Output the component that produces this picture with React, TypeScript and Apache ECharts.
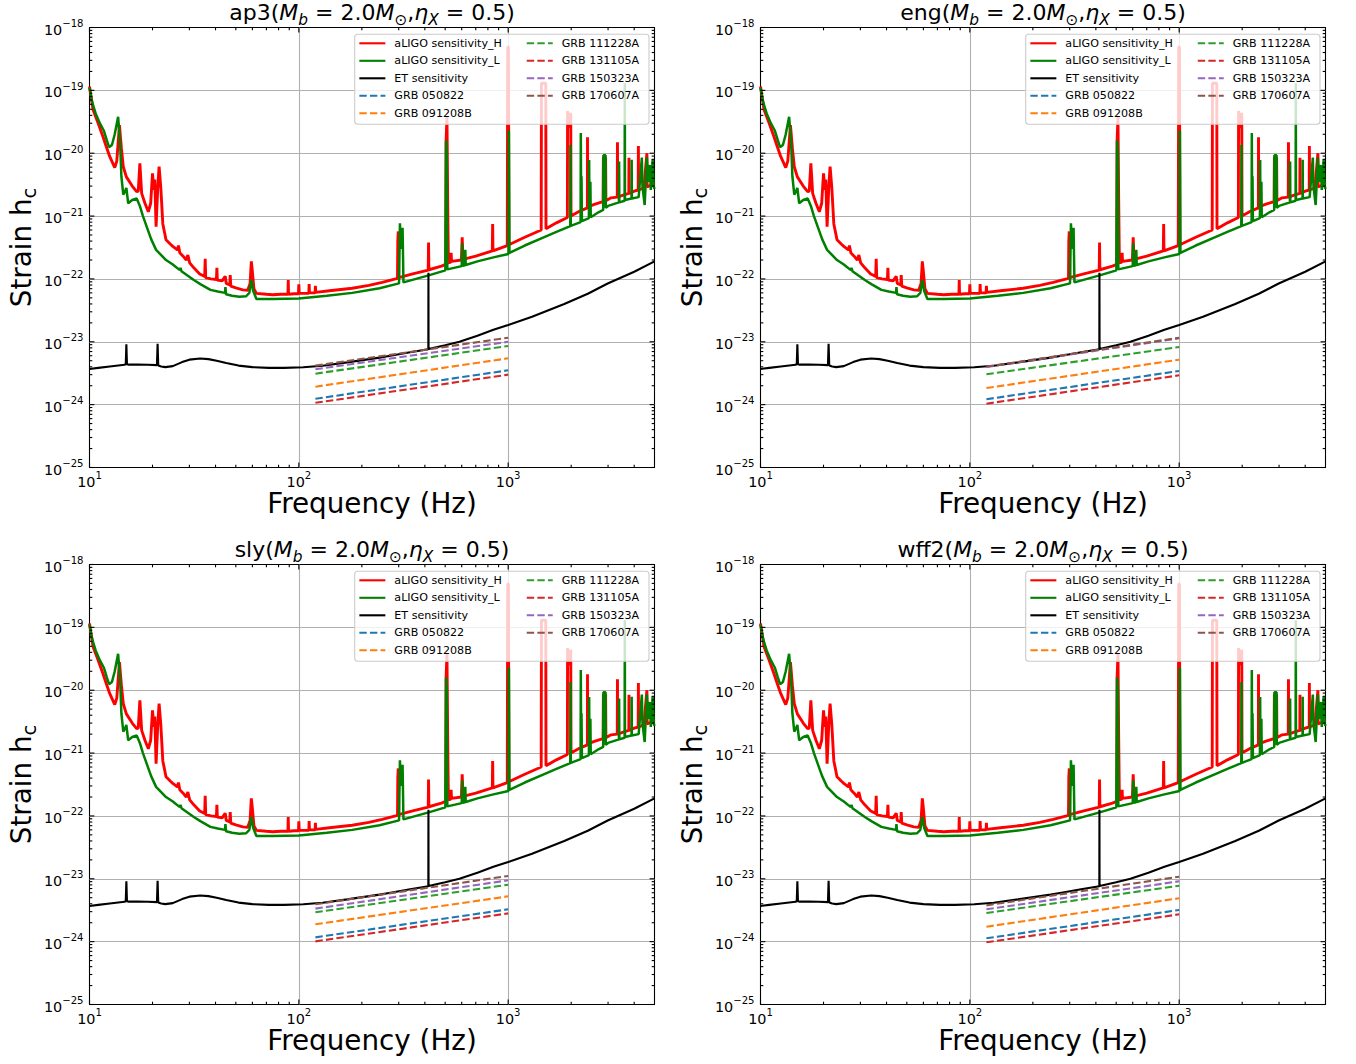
import React, { useEffect, useRef } from 'react';
import * as echarts from 'echarts';

const FONT = 'DejaVu Sans';

// ---- data ----
const panelModels = ['ap3', 'eng', 'sly', 'wff2'];
const panelMass = '2.0';
const panelEta = '0.5';

const seriesNames = ['aLIGO sensitivity_H', 'aLIGO sensitivity_L', 'ET sensitivity'];
const grbNames = ['GRB 050822', 'GRB 091208B', 'GRB 111228A', 'GRB 131105A', 'GRB 150323A', 'GRB 170607A'];
const grbColors = ['#1f77b4', '#ff7f0e', '#2ca02c', '#d62728', '#9467bd', '#8c564b'];
const legendCol1 = ['aLIGO sensitivity_H', 'aLIGO sensitivity_L', 'ET sensitivity', 'GRB 050822', 'GRB 091208B'];
const legendCol2 = ['GRB 111228A', 'GRB 131105A', 'GRB 150323A', 'GRB 170607A'];

const grbFreq = [120, 1000];
const grbAp3 = [[1.24e-24, 3.52e-24], [1.93e-24, 5.46e-24], [3.11e-24, 8.57e-24], [1.07e-24, 3.0e-24], [3.65e-24, 1.0e-23], [4.17e-24, 1.16e-23]];
const grbEng = [[1.22e-24, 3.43e-24], [1.84e-24, 5.19e-24], [3.04e-24, 8.26e-24], [1.035e-24, 2.93e-24], [3.98e-24, 1.135e-23], [4.02e-24, 1.16e-23]];
const grbSly = [[1.17e-24, 3.27e-24], [1.89e-24, 5.26e-24], [2.93e-24, 8.05e-24], [1.01e-24, 2.82e-24], [3.35e-24, 9.46e-24], [3.93e-24, 1.11e-23]];
const grbWff2 = [[1.13e-24, 3.19e-24], [1.73e-24, 4.9e-24], [2.86e-24, 7.76e-24], [9.77e-25, 2.72e-24], [3.27e-24, 9.12e-24], [3.78e-24, 1.08e-23]];
const grbByPanel = [grbAp3, grbEng, grbSly, grbWff2];

const ligoH = [
  [10, 1.15e-19], [10.2, 7.5e-20], [10.4, 4.9e-20], [11.0, 3.0e-20], [11.6, 1.83e-20], [12.0, 1.3e-20],
  [12.5, 8.8e-21], [13.2, 5.9e-21], [13.5, 7.5e-21], [13.9, 2.8e-20], [14.2, 1.2e-20], [14.5, 6.1e-21],
  [15.0, 4.2e-21], [16.0, 3.0e-21], [16.8, 2.45e-21], [17.1, 2.5e-21], [17.4, 6.9e-21], [17.75, 2.3e-21],
  [18.4, 1.6e-21], [19.1, 1.17e-21], [19.6, 1.6e-21], [20.0, 4.8e-21], [20.3, 2.6e-21], [20.5, 3.8e-21],
  [20.8, 6.8e-22], [21.2, 3e-21], [21.5, 6.1e-21], [21.9, 2.9e-21], [22.4, 7.5e-22], [23.2, 4.2e-22],
  [24.3, 3.6e-22], [25, 3.3e-22], [26.3, 2.9e-22], [26.6, 3.4e-22], [27, 2.6e-22], [28, 2.3e-22],
  [29, 2.0e-22], [29.5, 2.4e-22], [30.1, 1.8e-22], [31.5, 1.5e-22], [33.6, 1.2e-22], [35.5, 1.1e-22],
  [35.7, 2.1e-22], [35.9, 1.05e-22], [38, 1.0e-22], [40.4, 9.8e-23], [40.6, 1.5e-22], [40.8, 9.6e-23],
  [43, 9.3e-23], [44.5, 1.1e-22], [45, 8.5e-23], [46.8, 8e-23], [47, 1.15e-22], [47.3, 7.7e-23],
  [50, 7.2e-23], [54, 6.7e-23], [57, 6.6e-23], [58.5, 8.5e-23], [59.3, 1.9e-22], [60, 1.3e-22],
  [61, 7e-23], [62.7, 5.9e-23], [70, 5.7e-23], [75, 5.6e-23], [82, 5.7e-23], [88.7, 5.7e-23],
  [89, 9.6e-23], [89.3, 5.7e-23], [95, 5.8e-23], [99.6, 5.8e-23], [100, 8.2e-23], [100.4, 5.9e-23],
  [111.6, 5.9e-23], [112, 8.3e-23], [112.4, 6e-23], [119.6, 6e-23], [120, 7.8e-23], [120.4, 6.1e-23],
  [140, 6.5e-23], [180, 7.1e-23], [216, 7.9e-23], [250, 8.8e-23], [296, 1.02e-22], [297, 4e-22],
  [298.5, 5.7e-22], [300, 1.05e-22], [350, 1.2e-22], [415, 1.38e-22], [416.5, 3.8e-22], [418, 1.4e-22],
  [480, 1.6e-22], [503, 1.7e-22], [505, 1.5e-20], [510, 3.8e-20], [514, 1.8e-21], [518, 1.8e-22],
  [532, 1.85e-22], [534, 2.6e-22], [536, 1.9e-22], [598, 2.0e-22], [603, 4.6e-22], [608, 2.05e-22],
  [700, 2.3e-22], [840, 2.8e-22], [843, 7.5e-22], [846, 2.8e-22], [990, 3.4e-22], [995, 4.9e-19],
  [1003, 4.9e-19], [1008, 3.5e-22], [1200, 4.6e-22], [1438, 6.0e-22], [1442, 1.3e-19], [1512, 1.3e-19],
  [1516, 6.3e-22], [1700, 7.8e-22], [1918, 9.5e-22], [1922, 4.7e-20], [1960, 2.5e-20], [1990, 4.4e-20],
  [1996, 1.0e-21], [2200, 1.2e-21], [2390, 1.35e-21], [2393, 1.8e-20], [2398, 1.4e-21], [2600, 1.55e-21],
  [2840, 1.7e-21], [2850, 8.5e-21], [2920, 8.5e-21], [2930, 1.75e-21], [3100, 1.95e-21], [3320, 2.0e-21],
  [3327, 1.5e-20], [3334, 2.0e-21], [3600, 2.2e-21], [3770, 2.3e-21], [3776, 8.5e-21], [3782, 2.3e-21],
  [4000, 2.5e-21], [4180, 2.6e-21], [4188, 1.3e-20], [4196, 2.6e-21], [4450, 2.8e-21], [4600, 1.0e-20],
  [4610, 2.9e-21], [4800, 3.1e-21], [5000, 3.4e-21],
];

const ligoL = [
  [10, 1.1e-19], [10.3, 6.5e-20], [10.7, 4.3e-20], [11.2, 3.0e-20], [11.7, 2.3e-20], [12.1, 1.6e-20],
  [12.4, 1.25e-20], [12.8, 1.35e-20], [13.2, 2.0e-20], [13.7, 3.8e-20], [14.0, 1.5e-20], [14.2, 4.3e-21],
  [14.5, 2.2e-21], [14.8, 2.5e-21], [15.0, 2.8e-21], [15.3, 1.6e-21], [16.0, 1.8e-21], [16.8, 1.9e-21],
  [17.4, 1.45e-21], [18.0, 1.0e-21], [18.7, 7e-22], [19.7, 4.3e-22], [20.8, 2.9e-22], [23.2, 2.0e-22],
  [25, 1.7e-22], [27, 1.38e-22], [27.2, 1.5e-22], [27.5, 1.33e-22], [31.5, 9.6e-23], [34, 8.2e-23],
  [37.8, 6.7e-23], [41, 6.3e-23], [44.4, 6.0e-23], [44.6, 7.4e-23], [44.9, 5.7e-23], [48, 5.4e-23],
  [52, 5.2e-23], [56, 5.3e-23], [58, 6e-23], [59.3, 9.6e-23], [60.5, 6.5e-23], [62.7, 4.8e-23],
  [75, 4.8e-23], [100, 4.9e-23], [136, 5.4e-23], [180, 6.0e-23], [243, 7.1e-23], [301, 8.5e-23],
  [304, 7.7e-22], [308, 3e-22], [313, 6.5e-22], [316, 8.8e-23], [421, 1.15e-22], [501, 1.37e-22],
  [505, 1.6e-20], [509, 1.0e-20], [512, 1.42e-22], [600, 1.6e-22], [603, 3.7e-22], [606, 1.62e-22],
  [622, 1.65e-22], [624, 2.9e-22], [627, 1.67e-22], [713, 1.9e-22], [850, 2.2e-22], [1003, 2.5e-22],
  [1008, 2.3e-20], [1014, 2.6e-22], [1200, 3.4e-22], [1459, 4.5e-22], [1700, 5.6e-22], [1980, 6.9e-22],
  [1985, 1.35e-20], [1992, 7e-22], [2218, 8.0e-22], [2223, 2.1e-20], [2232, 8.2e-22], [2240, 4.3e-21],
  [2250, 8.3e-22], [2430, 9.3e-22], [2437, 7.8e-21], [2445, 9.4e-22], [2470, 3.5e-21], [2480, 9.6e-22],
  [2700, 1.15e-21], [2844, 1.25e-21], [2850, 9.3e-21], [2918, 9.3e-21], [2925, 1.35e-21], [3000, 1.45e-21],
  [3380, 1.65e-21], [3388, 7.4e-21], [3396, 1.65e-21], [3600, 1.75e-21], [3607, 1.3e-19], [3614, 1.8e-21],
  [3885, 1.9e-21], [3890, 7.9e-21], [3896, 1.9e-21], [4200, 2.0e-21], [4350, 8.5e-21], [4380, 3.0e-21],
  [4487, 1.5e-21], [4550, 4e-21], [4600, 8.5e-21], [4650, 3.5e-21], [4750, 6.5e-21], [4800, 2.6e-21],
  [4900, 8e-21], [4950, 3e-21], [5000, 2.7e-21],
];

const etCurve = [
  [10, 3.69e-24], [11, 3.85e-24], [12.5, 4.05e-24], [14.7, 4.3e-24], [14.9, 4.4e-24], [15.0, 9.1e-24],
  [15.1, 4.4e-24], [15.3, 4.33e-24], [17, 4.33e-24], [19, 4.3e-24], [21.0, 4.25e-24], [21.15, 9.3e-24],
  [21.3, 4.2e-24], [22.0, 4.05e-24], [23, 3.95e-24], [25, 4.1e-24], [27.7, 4.75e-24], [30, 5.2e-24],
  [33.8, 5.42e-24], [37, 5.3e-24], [40.5, 5.0e-24], [45, 4.6e-24], [51.5, 4.18e-24], [60, 3.95e-24],
  [72, 3.84e-24], [85, 3.85e-24], [105, 3.94e-24], [130, 4.15e-24], [170, 4.7e-24], [243, 5.6e-24],
  [274, 6.0e-24], [340, 6.8e-24], [415.5, 7.6e-24], [416, 1.25e-22], [416.5, 7.65e-24], [500, 8.8e-24],
  [585, 1.0e-23], [713, 1.25e-23], [850, 1.55e-23], [1000, 1.85e-23], [1300, 2.5e-23], [1853, 4.0e-23],
  [2400, 5.8e-23], [2988, 8.45e-23], [4000, 1.3e-22], [5000, 1.9e-22],
];

const xRange = [10, 5000];
const yRange = [1e-25, 1e-18];
const xMajorTicks = [10, 100, 1000];
const xMinorTicks = [20, 30, 40, 50, 60, 70, 80, 90, 200, 300, 400, 500, 600, 700, 800, 900, 2000, 3000, 4000];
const yMajorExponents = [-25, -24, -23, -22, -21, -20, -19, -18];
const yMinorMantissas = [2, 3, 4, 5, 6, 7, 8, 9];

// ---- layout ----
const GRID_W = 565;
const GRID_H = 440;
const panelOrigins = [[89.5, 27.5], [760.5, 27.5], [89.5, 564.5], [760.5, 564.5]];

const lg = (v: number) => Math.log10(v);
const toLog = (pts: number[][]) => pts.map(([f, h]) => [lg(f), lg(h)]);

const powLabel = (v: number) => {
  const r = Math.round(v);
  if (Math.abs(v - r) > 1e-6) return '';
  return `{b|10}{s|${r < 0 ? '\u2212' : ''}${Math.abs(r)}}`;
};

const tickRich = {
  b: { fontFamily: FONT, fontSize: 14.4, color: '#000', verticalAlign: 'bottom', lineHeight: 18 },
  s: { fontFamily: FONT, fontSize: 10.1, color: '#000', verticalAlign: 'top', lineHeight: 18 },
};

const tickData: number[][] = [];
xMajorTicks.forEach((v) => tickData.push([lg(v), -22, 1, 0]));
xMinorTicks.forEach((v) => tickData.push([lg(v), -22, 0, 0]));
yMajorExponents.forEach((e) => tickData.push([2, e, 1, 1]));
yMajorExponents.slice(0, -1).forEach((e) =>
  yMinorMantissas.forEach((m) => tickData.push([2, e + lg(m), 0, 1]))
);

const renderTicks = (params: any, api: any) => {
  const cs = params.coordSys;
  const major = api.value(2) === 1;
  const len = major ? 4.9 : 2.8;
  const p = api.coord([api.value(0), api.value(1)]);
  const st = { stroke: '#000', lineWidth: 1.1 };
  if (api.value(3) === 0) {
    const x = p[0];
    return {
      type: 'group',
      children: [
        { type: 'line', shape: { x1: x, y1: cs.y + cs.height, x2: x, y2: cs.y + cs.height - len }, style: st },
        { type: 'line', shape: { x1: x, y1: cs.y, x2: x, y2: cs.y + len }, style: st },
      ],
    };
  }
  const y = p[1];
  return {
    type: 'group',
    children: [
      { type: 'line', shape: { x1: cs.x, y1: y, x2: cs.x + len, y2: y }, style: st },
      { type: 'line', shape: { x1: cs.x + cs.width, y1: y, x2: cs.x + cs.width - len, y2: y }, style: st },
    ],
  };
};

const titleRich = {
  n: { fontFamily: FONT, fontSize: 22, fill: '#000', color: '#000', verticalAlign: 'middle', lineHeight: 30 },
  i: { fontFamily: FONT, fontSize: 22, fontStyle: 'italic', fill: '#000', color: '#000', verticalAlign: 'middle', lineHeight: 30 },
  sb: { fontFamily: FONT, fontSize: 15.4, fontStyle: 'italic', fill: '#000', color: '#000', verticalAlign: 'bottom', lineHeight: 30 },
  so: { fontFamily: FONT, fontSize: 15.4, fill: '#000', color: '#000', verticalAlign: 'bottom', lineHeight: 30 },
};

const labelRich = {
  n: { fontFamily: FONT, fontSize: 27.8, fill: '#000', color: '#000', verticalAlign: 'middle', lineHeight: 36 },
  sb: { fontFamily: FONT, fontSize: 19.5, fill: '#000', color: '#000', verticalAlign: 'bottom', lineHeight: 36 },
};

function buildOption() {
  const grid: any[] = [];
  const xAxis: any[] = [];
  const yAxis: any[] = [];
  const series: any[] = [];
  const legend: any[] = [];
  const graphic: any[] = [];

  panelOrigins.forEach(([L, T], i) => {
    grid.push({ left: L, top: T, width: GRID_W, height: GRID_H, show: true, borderColor: '#000', borderWidth: 1.1, backgroundColor: 'transparent' });
    const axisCommon = {
      gridIndex: i,
      type: 'value',
      interval: 1,
      axisLine: { show: false },
      axisTick: { show: false },
      minorTick: { show: false },
      splitLine: { show: true, showMinLine: false, showMaxLine: false, lineStyle: { color: '#b0b0b0', width: 1.1 } },
    };
    xAxis.push({
      ...axisCommon,
      min: lg(xRange[0]),
      max: lg(xRange[1]),
      axisLabel: { formatter: powLabel, rich: tickRich, margin: 3, showMinLabel: true, showMaxLabel: true, hideOverlap: false },
    });
    yAxis.push({
      ...axisCommon,
      min: lg(yRange[0]),
      max: lg(yRange[1]),
      axisLabel: { formatter: powLabel, rich: tickRich, margin: 6, showMinLabel: true, showMaxLabel: true, hideOverlap: false },
    });

    const base = { xAxisIndex: i, yAxisIndex: i, showSymbol: false, symbol: 'none', silent: true };
    series.push({ ...base, type: 'line', name: seriesNames[0], data: toLog(ligoH), itemStyle: { color: '#ff0000' }, lineStyle: { color: '#ff0000', width: 2.9 } });
    series.push({ ...base, type: 'line', name: seriesNames[1], data: toLog(ligoL), itemStyle: { color: '#008000' }, lineStyle: { color: '#008000', width: 2.5 } });
    series.push({ ...base, type: 'line', name: seriesNames[2], data: toLog(etCurve), itemStyle: { color: '#000000' }, lineStyle: { color: '#000000', width: 2.1 } });
    grbNames.forEach((nm, j) => {
      series.push({
        ...base,
        type: 'line',
        name: nm,
        data: grbFreq.map((f, k) => [lg(f), lg(grbByPanel[i][j][k])]),
        itemStyle: { color: grbColors[j] },
        lineStyle: { color: grbColors[j], width: 2.1, type: [7.4, 3.2] },
      });
    });
    series.push({
      type: 'custom',
      name: 'axis ticks',
      xAxisIndex: i,
      yAxisIndex: i,
      silent: true,
      clip: false,
      z: 10,
      data: tickData,
      renderItem: renderTicks,
    });

    const legendCommon = {
      orient: 'vertical',
      top: T + 8.8,
      itemWidth: 26,
      itemHeight: 14,
      itemGap: 3.5,
      padding: 0,
      selectedMode: false,
      z: 6,
      itemStyle: { opacity: 0 },
      lineStyle: { width: 2.1 },
      textStyle: { fontFamily: FONT, fontSize: 11.1, color: '#000', lineHeight: 14, padding: [0, 0, 0, 4] },
    };
    legend.push({ ...legendCommon, left: L + 268.8, data: legendCol1 });
    legend.push({ ...legendCommon, left: L + 436.2, data: legendCol2 });

    graphic.push({
      type: 'rect',
      silent: true,
      z: 5,
      shape: { x: L + 265.2, y: T + 6.8, width: 294.3, height: 90, r: 3 },
      style: { fill: 'rgba(255,255,255,0.8)', stroke: '#cccccc', lineWidth: 1.1 },
    });
    const titleText = `{n|${panelModels[i]}(}{i|M}{sb|b}{n| = ${panelMass}}{i|M}{so|\u2299}{n|,}{i|\u03b7}{sb|X}{n| = ${panelEta})}`;
    graphic.push({
      type: 'text',
      silent: true,
      x: L + GRID_W / 2,
      y: T - 15,
      style: { text: titleText, rich: titleRich, align: 'center', verticalAlign: 'middle', textAlign: 'center', textVerticalAlign: 'middle', fill: '#000' },
    });
    graphic.push({
      type: 'text',
      silent: true,
      x: L + GRID_W / 2,
      y: T + GRID_H + 36,
      style: { text: 'Frequency (Hz)', fontFamily: FONT, fontSize: 27.8, fill: '#000', align: 'center', verticalAlign: 'middle', textAlign: 'center', textVerticalAlign: 'middle' },
    });
    graphic.push({
      type: 'text',
      silent: true,
      x: L - 68,
      y: T + GRID_H / 2,
      rotation: Math.PI / 2,
      style: { text: '{n|Strain h}{sb|c}', rich: labelRich, align: 'center', verticalAlign: 'middle', textAlign: 'center', textVerticalAlign: 'middle', fill: '#000' },
    });
  });

  return {
    animation: false,
    backgroundColor: '#ffffff',
    textStyle: { fontFamily: FONT },
    grid,
    xAxis,
    yAxis,
    legend,
    series,
    graphic: { elements: graphic },
  };
}

export default function App() {
  const ref = useRef<HTMLDivElement>(null);
  useEffect(() => {
    if (!ref.current) return;
    const chart = echarts.init(ref.current, null, { renderer: 'svg' });
    chart.setOption(buildOption() as any);
    return () => chart.dispose();
  }, []);
  return <div ref={ref} style={{ position: 'absolute', left: 0, top: 0, width: 1356, height: 1064 }} />;
}
